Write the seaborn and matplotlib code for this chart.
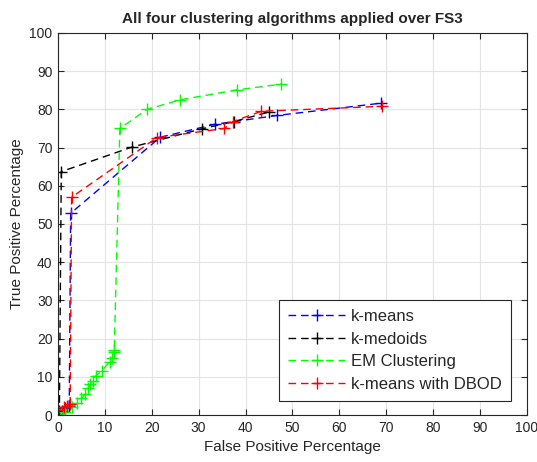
import pandas as pd
import matplotlib
matplotlib.use("Agg")
import matplotlib.pyplot as plt
import seaborn as sns

# valores (FP %, TP %)
kmeans_fp = [0.0, 0.8, 1.6, 2.4, 2.7, 21.8, 33.5, 46.7, 68.8]
kmeans_tp = [0.0, 1.0, 1.8, 2.3, 52.8, 72.7, 76.1, 78.4, 81.6]

kmedoids_fp = [0.0, 0.3, 0.7, 15.7, 30.7, 37.5, 45.0]
kmedoids_tp = [0.0, 1.0, 63.7, 70.1, 74.9, 76.8, 79.3]

em_fp = [1.0, 1.5, 3.0, 4.1, 5.0, 5.8, 6.4, 6.9, 7.4, 8.1, 9.3, 11.0, 11.5, 11.9, 12.0,
         13.2, 19.0, 26.1, 38.2, 47.6]
em_tp = [0.0, 0.9, 2.0, 3.1, 4.4, 5.4, 7.0, 8.1, 9.0, 10.3, 11.5, 13.9, 14.8, 16.6, 17.0,
         75.0, 80.0, 82.5, 85.1, 86.6]

dbod_fp = [0.1, 1.2, 1.9, 2.6, 2.9, 21.1, 35.5, 37.3, 43.4, 69.2]
dbod_tp = [1.3, 2.0, 2.4, 3.0, 57.0, 72.6, 75.0, 76.8, 79.5, 80.8]

series = [
    ("k-means", kmeans_fp, kmeans_tp, "#0000ff"),
    ("k-medoids", kmedoids_fp, kmedoids_tp, "#000000"),
    ("EM Clustering", em_fp, em_tp, "#00ff00"),
    ("k-means with DBOD", dbod_fp, dbod_tp, "#ff0000"),
]

sns.set_style("whitegrid")
plt.rcParams["font.family"] = ["Liberation Sans", "DejaVu Sans"]

fig = plt.figure(figsize=(5.37, 4.62), dpi=100)
ax = fig.add_axes([0.108, 0.1017, 0.873, 0.827])

for nombre, fp, tp, color in series:
    df = pd.DataFrame({"fp": fp, "tp": tp})
    sns.lineplot(data=df, x="fp", y="tp", ax=ax, sort=False, estimator=None,
                 color=color, linestyle=(0, (5.5, 3.5)), linewidth=1.0, marker="+",
                 markersize=9, markeredgewidth=1.0, markeredgecolor=color,
                 markerfacecolor=color, label=nombre)

ax.set_xlim(0, 100)
ax.set_ylim(0, 100)
ax.set_xticks(range(0, 101, 10))
ax.set_yticks(range(0, 101, 10))
ax.grid(True, color="#e3e3e3", linewidth=0.8)
for s in ax.spines.values():
    s.set_color("#262626")
    s.set_linewidth(0.8)
ax.tick_params(direction="in", length=4, width=0.8, color="#262626",
               labelsize=10, labelcolor="#262626", top=True, right=True,
               bottom=True, left=True, pad=4)

ax.set_title("All four clustering algorithms applied over FS3", fontsize=11,
             fontweight="bold", pad=7)
ax.set_xlabel("False Positive Percentage", fontsize=11, color="#262626")
ax.set_ylabel("True Positive Percentage", fontsize=11, color="#262626")

leg = ax.legend(loc="lower right", bbox_to_anchor=(0.966, 0.037), fontsize=12,
                frameon=True, fancybox=False, framealpha=1, edgecolor="#262626",
                handlelength=3.4, handletextpad=0.35, borderpad=0.55,
                labelspacing=0.45, borderaxespad=0)
leg.get_frame().set_linewidth(0.8)

fig.savefig("out.png", dpi=100)
